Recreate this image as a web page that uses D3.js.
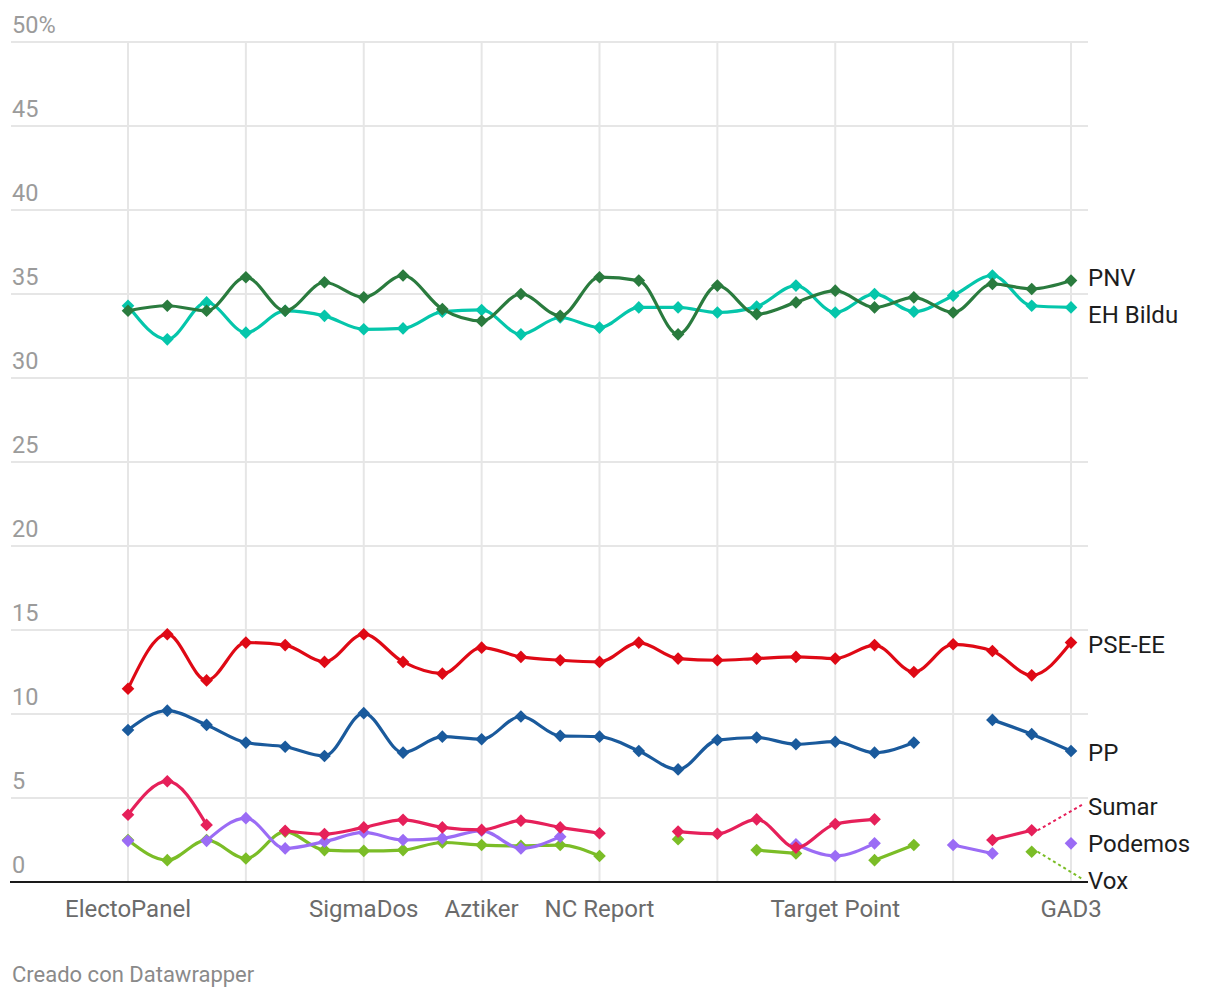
<!DOCTYPE html>
<html>
<head>
<meta charset="utf-8">
<script src="https://cdn.jsdelivr.net/npm/d3@7"></script>
<style>
  body { margin: 0; background: #fff; font-family: Roboto, "Noto Sans", sans-serif; }
</style>
</head>
<body>
<div id="container"></div>
<script>
"use strict";

// One entry per poll, only the printed pollster names are filled in.
const categories = [
  "ElectoPanel", "", "", "", "", "", "SigmaDos", "", "", "Aztiker", "", "",
  "NC Report", "", "", "", "", "", "Target Point", "", "", "", "", "", "GAD3"
];
const yTicks = [0, 5, 10, 15, 20, 25, 30, 35, 40, 45, 50];

const pnv = [34.0, 34.3, 34.0, 36.0, 34.0, 35.7, 34.8, 36.1, 34.1, 33.4, 35.0, 33.7,
  36.0, 35.8, 32.6, 35.5, 33.8, 34.5, 35.2, 34.2, 34.8, 33.9, 35.6, 35.3, 35.8];
const bildu = [34.3, 32.3, 34.5, 32.7, 34.0, 33.7, 32.9, 32.95, 33.95, 34.05, 32.6, 33.6,
  33.0, 34.2, 34.2, 33.9, 34.25, 35.5, 33.9, 35.0, 33.95, 34.9, 36.1, 34.3, 34.2];
const pse = [11.5, 14.75, 12.0, 14.25, 14.1, 13.1, 14.75, 13.1, 12.4, 13.95, 13.4, 13.2,
  13.1, 14.25, 13.3, 13.2, 13.3, 13.4, 13.3, 14.1, 12.5, 14.15, 13.75, 12.3, 14.25];
const pp = [9.05, 10.2, 9.35, 8.3, 8.05, 7.5, 10.05, 7.7, 8.65, 8.5, 9.85, 8.7,
  8.65, 7.8, 6.7, 8.45, 8.6, 8.2, 8.35, 7.7, 8.3, null, 9.65, 8.8, 7.8];
const sumar = [4.0, 6.0, 3.4, null, 3.05, 2.85, 3.25, 3.7, 3.25, 3.1, 3.65, 3.25,
  2.9, null, 3.0, 2.87, 3.73, 2.05, 3.45, 3.73, null, null, 2.5, 3.08, null];
const podemos = [2.45, null, 2.45, 3.8, 2.0, 2.4, 2.95, 2.5, 2.6, 3.05, 2.0, 2.7,
  null, null, null, null, null, 2.25, 1.55, 2.3, null, 2.2, 1.7, null, 2.3];
const vox = [2.5, 1.3, 2.5, 1.4, 3.0, 1.9, 1.85, 1.9, 2.35, 2.2, 2.15, 2.2,
  1.55, null, 2.55, null, 1.9, 1.7, null, 1.3, 2.2, null, null, 1.8, null];

// Drawn bottom to top.
const series = [
  { name: "Vox", values: vox, color: "#7bbd27" },
  { name: "Podemos", values: podemos, color: "#9b6cf5" },
  { name: "Sumar", values: sumar, color: "#e6205a" },
  { name: "PP", values: pp, color: "#1a5a9c" },
  { name: "PSE-EE", values: pse, color: "#df0915" },
  { name: "EH Bildu", values: bildu, color: "#05c6ab" },
  { name: "PNV", values: pnv, color: "#2a7b3e" }
];

const width = 1220;
const height = 998;
const left = 11;
const right = 1088;

const x = d3.scalePoint().domain(d3.range(categories.length)).range([128, 1071]);
const y = d3.scaleLinear().domain([0, 50]).range([882, 42]);

const svg = d3.select("#container").append("svg")
  .attr("width", width)
  .attr("height", height);

// Horizontal grid + tick labels.
svg.append("g")
  .selectAll("line")
  .data(yTicks.filter((t) => t > 0))
  .join("line")
  .attr("x1", left)
  .attr("x2", right)
  .attr("y1", (t) => y(t))
  .attr("y2", (t) => y(t))
  .attr("stroke", "#e6e6e6")
  .attr("stroke-width", 2);

svg.append("g")
  .selectAll("text")
  .data(yTicks)
  .join("text")
  .attr("x", 12)
  .attr("y", (t) => y(t) - 9.5)
  .attr("fill", "#9b9b9b")
  .style("font-size", "23.5px")
  .text((t) => (t === 50 ? "50%" : t));

// Vertical grid every third poll.
svg.append("g")
  .selectAll("line")
  .data(x.domain().filter((i) => i % 3 === 0))
  .join("line")
  .attr("x1", (i) => x(i))
  .attr("x2", (i) => x(i))
  .attr("y1", y(50))
  .attr("y2", y(0))
  .attr("stroke", "#e6e6e6")
  .attr("stroke-width", 2);

// Baseline.
svg.append("line")
  .attr("x1", 10)
  .attr("x2", right)
  .attr("y1", y(0))
  .attr("y2", y(0))
  .attr("stroke", "#1a1a1a")
  .attr("stroke-width", 2);

// X labels.
svg.append("g")
  .selectAll("text")
  .data(x.domain().filter((i) => categories[i] !== ""))
  .join("text")
  .attr("x", (i) => x(i))
  .attr("y", 917)
  .attr("text-anchor", "middle")
  .attr("fill", "#6b6b6b")
  .style("font-size", "24px")
  .text((i) => categories[i]);

const line = d3.line()
  .defined((v) => v != null)
  .x((v, i) => x(i))
  .y((v) => y(v))
  .curve(d3.curveMonotoneX);

const diamond = d3.symbol(d3.symbolSquare, 80);

for (const s of series) {
  const g = svg.append("g");
  g.append("path")
    .attr("d", line(s.values))
    .attr("fill", "none")
    .attr("stroke", s.color)
    .attr("stroke-width", 3.2)
    .attr("stroke-linejoin", "round")
    .attr("stroke-linecap", "round");

  g.selectAll("path.dot")
    .data(s.values.map((v, i) => ({ v, i })).filter((d) => d.v != null))
    .join("path")
    .attr("class", "dot")
    .attr("d", diamond)
    .attr("transform", (d) => `translate(${x(d.i)},${y(d.v)}) rotate(45)`)
    .attr("fill", s.color);
}

// Direct labels: stack clashing labels around their mean position.
const gap = 37;
const items = series.map((s) => {
  let lastIdx = s.values.length - 1;
  while (s.values[lastIdx] == null) lastIdx--;
  return { s, lastIdx, y0: y(s.values[lastIdx]) };
}).sort((a, b) => a.y0 - b.y0);

let groups = items.map((d) => ({ members: [d], center: d.y0 }));
let merged = true;
while (merged) {
  merged = false;
  for (let i = 0; i < groups.length - 1; i++) {
    const a = groups[i];
    const b = groups[i + 1];
    const aBottom = a.center + ((a.members.length - 1) * gap) / 2;
    const bTop = b.center - ((b.members.length - 1) * gap) / 2;
    if (bTop - aBottom < gap) {
      const members = a.members.concat(b.members);
      groups.splice(i, 2, { members, center: d3.mean(members, (m) => m.y0) });
      merged = true;
      break;
    }
  }
}
for (const g of groups) {
  g.members.forEach((m, k) => {
    m.ly = g.center + (k - (g.members.length - 1) / 2) * gap;
  });
}

for (const m of items) {
  if (m.lastIdx < categories.length - 1) {
    svg.append("line")
      .attr("x1", x(m.lastIdx) + 6)
      .attr("y1", m.y0)
      .attr("x2", 1082)
      .attr("y2", m.ly)
      .attr("stroke", m.s.color)
      .attr("stroke-width", 2)
      .attr("stroke-dasharray", "3,3");
  }
  svg.append("text")
    .attr("x", 1088)
    .attr("y", m.ly + 2)
    .attr("dy", "0.35em")
    .attr("fill", "#1d1d1d")
    .style("font-size", "24px")
    .text(m.s.name);
}

svg.append("text")
  .attr("x", 12)
  .attr("y", 982)
  .attr("fill", "#8a8a8a")
  .style("font-size", "22px")
  .text("Creado con Datawrapper");
</script>
</body>
</html>
